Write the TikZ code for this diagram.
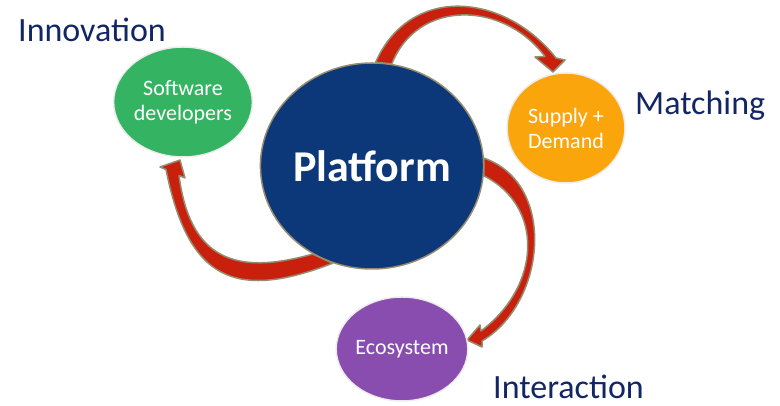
\documentclass[tikz,border=0pt]{standalone}
\usepackage{fontspec}
\setmainfont{Carlito}
\usetikzlibrary{shapes.geometric,backgrounds}
\definecolor{platformblue}{RGB}{12,56,122}
\definecolor{devgreen}{RGB}{52,180,98}
\definecolor{supplyorange}{RGB}{250,165,12}
\definecolor{ecopurple}{RGB}{137,76,175}
\definecolor{labelblue}{RGB}{18,38,100}
\definecolor{arrowred}{RGB}{200,32,12}
\definecolor{arrowedge}{RGB}{150,140,112}

\begin{document}
\begin{tikzpicture}[x=1pt,y=1pt,
  bubble/.style={ellipse,inner sep=0pt,text=white,align=center,font=\fontsize{22}{25}\selectfont,draw=white!85!gray,line width=1.5pt},
  caption/.style={anchor=base west,inner sep=0pt,text=labelblue,font=\fontsize{34}{40}\selectfont},
  swoosh/.style={fill=arrowred,draw=arrowedge,line width=1.5pt,line join=round}]

\useasboundingbox (0,0) rectangle (780,406);

\node[bubble,fill=platformblue,draw=arrowedge,minimum width=220pt,minimum height=206pt,font=\fontsize{44}{50}\selectfont\bfseries] (platform) at (372,240) {Platform};
\node[bubble,fill=devgreen,minimum width=117pt,minimum height=110pt] (developers) at (183,304) {Software\\developers};
\node[bubble,fill=supplyorange,minimum width=118pt,minimum height=110pt] (supply) at (566,278) {Supply +\\Demand};
\node[bubble,fill=ecopurple,minimum width=119pt,minimum height=104pt] (ecosystem) at (402,57) {Ecosystem};

\node[caption] (innovation) at (18,364) {Innovation};
\node[caption] (matching) at (635,291) {Matching};
\node[caption] (interaction) at (493,7) {Interaction};

\coordinate (matchtip) at (553,334);
\coordinate (innotip) at (180,246);
\coordinate (ecotip) at (467,66);

\begin{scope}[on background layer]
\filldraw[swoosh] (platform.88) .. controls (409.8,421.2) and (503.3,414.3) .. (556,348) -- (565,346) -- (matchtip) -- (535,349) -- (545,349.5) .. controls (503,405.5) and (417.5,406.8) .. (platform.79) -- cycle;
\filldraw[swoosh] (platform.248) .. controls (235,105) and (188,126) .. (166,236.5) -- (160,239) -- (innotip) -- (185,228) -- (179,230.5) .. controls (190,147) and (235,130) .. (platform.236) -- cycle;
\filldraw[swoosh] (platform.4) .. controls (557.7,222) and (545.75,102.5) .. (482,65) -- (482,59) -- (ecotip) -- (480,81) -- (481,75) .. controls (541,120) and (544.6,199.5) .. (platform.355) -- cycle;
\end{scope}

\end{tikzpicture}
\end{document}
